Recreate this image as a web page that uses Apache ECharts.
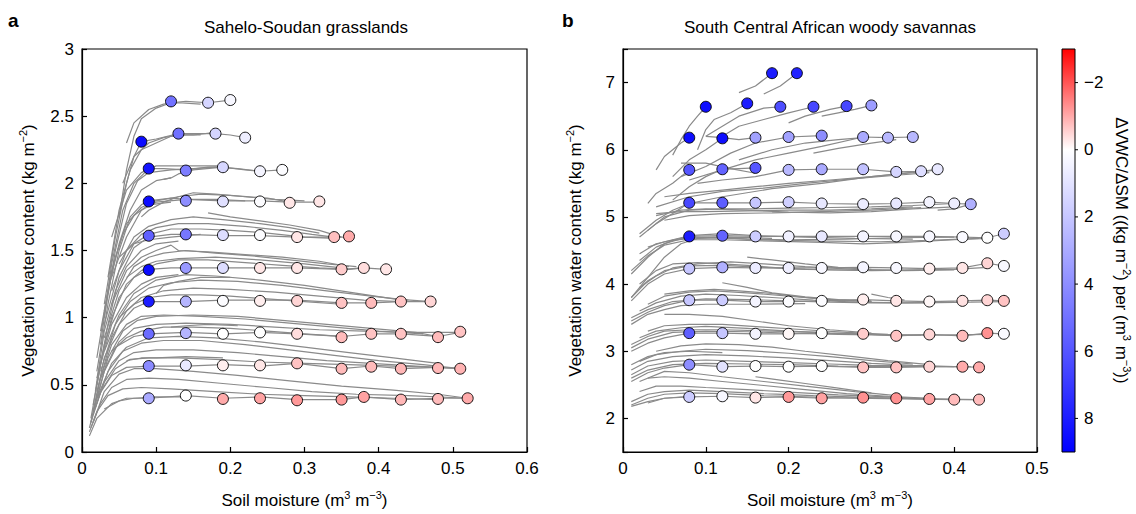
<!DOCTYPE html>
<html><head><meta charset="utf-8">
<script src="https://cdn.jsdelivr.net/npm/echarts@6/dist/echarts.min.js"></script>
<style>html,body{margin:0;padding:0;background:#fff}#c{width:1136px;height:514px}</style>
</head><body><div id="c"></div>
<script>
// ---------------- DATA ----------------
const titleA = 'Sahelo-Soudan grasslands';
const titleB = 'South Central African woody savannas';
const xTicksA = {min: 0, max: 0.6, interval: 0.1};
const yTicksA = {min: 0, max: 3, interval: 0.5};
const xTicksB = {min: 0, max: 0.5, interval: 0.1};
const yRangeB = {min: 1.5, max: 7.5};
const cbMin = -3, cbMax = 9;
const cbTicks = [-2, 0, 2, 4, 6, 8];
const cbColors = ['#ff0000', '#ffffff', '#aaaaff', '#5555ff', '#0000ff'];

// circles: [soil moisture, VWC, dVWC/dSM]
const circlesA = [
 [0.12,2.61,5],[0.17,2.60,1.5],[0.20,2.62,0.3],
 [0.08,2.31,8.6],[0.13,2.37,5],[0.18,2.37,1.5],[0.22,2.34,0.6],
 [0.09,2.11,8.3],[0.14,2.095,4.6],[0.19,2.12,1.4],[0.24,2.09,0.4],[0.27,2.10,0.1],
 [0.09,1.865,8.6],[0.14,1.87,4.0],[0.19,1.865,1.1],[0.24,1.865,0.1],[0.28,1.855,-0.3],[0.32,1.865,-0.3],
 [0.09,1.61,5.6],[0.14,1.62,4.8],[0.19,1.615,1.2],[0.24,1.615,0.1],[0.29,1.60,-0.3],[0.34,1.60,-0.75],[0.36,1.605,-1.0],
 [0.09,1.355,8.6],[0.14,1.37,3.6],[0.19,1.37,1.2],[0.24,1.37,-0.3],[0.29,1.37,-0.3],[0.35,1.36,-0.6],[0.38,1.37,-0.4],[0.41,1.36,-0.3],
 [0.09,1.12,8],[0.14,1.12,2.6],[0.19,1.125,0.1],[0.24,1.125,-0.2],[0.29,1.125,-0.5],[0.35,1.11,-0.7],[0.39,1.11,-0.8],[0.43,1.12,-0.7],[0.47,1.12,-0.5],
 [0.09,0.88,5.2],[0.14,0.885,2.6],[0.19,0.88,0],[0.24,0.89,0],[0.29,0.88,-0.4],[0.35,0.855,-0.8],[0.39,0.88,-0.7],[0.43,0.88,-0.7],[0.48,0.855,-0.8],[0.51,0.895,-0.7],
 [0.09,0.64,4.1],[0.14,0.645,0.8],[0.19,0.645,-0.2],[0.24,0.645,-0.3],[0.29,0.66,-0.7],[0.35,0.62,-0.8],[0.39,0.635,-0.8],[0.43,0.62,-0.85],[0.48,0.625,-0.85],[0.51,0.62,-0.9],
 [0.09,0.40,3.0],[0.14,0.42,0],[0.19,0.395,-1.0],[0.24,0.40,-1.1],[0.29,0.385,-1.2],[0.35,0.39,-1.2],[0.38,0.41,-1.1],[0.43,0.39,-0.85],[0.48,0.395,-0.8],[0.52,0.40,-1.0]
];
const circlesB = [
 [0.18,7.14,8],[0.21,7.14,7.8],
 [0.10,6.64,8.5],[0.15,6.69,8],[0.19,6.64,6.3],[0.23,6.64,6.5],[0.27,6.65,6.5],[0.30,6.66,3.5],
 [0.08,6.18,8.5],[0.12,6.17,8.5],[0.16,6.18,3.3],[0.20,6.19,3.3],[0.24,6.21,4],[0.29,6.19,3],[0.32,6.18,2.5],[0.35,6.19,2.5],
 [0.08,5.70,6],[0.12,5.71,5.5],[0.16,5.73,6],[0.20,5.70,2.5],[0.24,5.71,3],[0.29,5.71,2.2],[0.33,5.67,1.5],[0.36,5.68,1.2],[0.38,5.71,0.8],
 [0.08,5.21,6.5],[0.12,5.21,5.7],[0.16,5.21,2],[0.20,5.22,1.7],[0.24,5.20,0.8],[0.29,5.19,0.7],[0.33,5.20,0.8],[0.37,5.22,0.4],[0.40,5.20,0.6],[0.42,5.19,2.8],
 [0.08,4.71,8],[0.12,4.72,5.5],[0.16,4.71,1.8],[0.20,4.71,0.5],[0.24,4.71,0.8],[0.29,4.71,0.4],[0.33,4.71,0.3],[0.37,4.71,0.3],[0.41,4.70,0.2],[0.44,4.69,0],[0.46,4.75,1.8],
 [0.08,4.23,2],[0.12,4.25,2.8],[0.16,4.24,0.7],[0.20,4.24,0.6],[0.24,4.24,0.3],[0.29,4.25,0.4],[0.33,4.24,0.3],[0.37,4.23,-0.2],[0.41,4.24,-0.3],[0.44,4.31,-0.5],[0.46,4.27,0.3],
 [0.08,3.76,2],[0.12,3.76,1.8],[0.16,3.74,0.4],[0.20,3.74,0.1],[0.24,3.75,0.1],[0.29,3.77,-0.2],[0.33,3.75,-0.3],[0.37,3.74,-0.1],[0.41,3.75,-0.35],[0.44,3.76,-0.5],[0.46,3.75,-0.7],
 [0.08,3.27,5.7],[0.12,3.27,2],[0.16,3.26,0.4],[0.20,3.26,-0.1],[0.24,3.27,0],[0.29,3.26,-0.6],[0.33,3.23,-0.7],[0.37,3.25,-0.5],[0.41,3.23,-0.8],[0.44,3.27,-1.3],[0.46,3.26,0.2],
 [0.08,2.80,4],[0.12,2.77,1],[0.16,2.78,0],[0.20,2.77,0],[0.24,2.78,0],[0.29,2.76,-0.7],[0.33,2.76,-0.7],[0.37,2.77,-0.5],[0.41,2.77,-1],[0.43,2.76,-1],
 [0.08,2.32,1.8],[0.12,2.33,0.3],[0.16,2.31,-0.3],[0.20,2.32,-1.2],[0.24,2.30,-1.1],[0.29,2.31,-1.3],[0.33,2.30,-1.3],[0.37,2.29,-1.1],[0.40,2.28,-0.8],[0.43,2.28,-0.8]
];

// gray curves, panel a
const linesA = [
 [[0.05,1.75],[0.06,2.1],[0.07,2.35],[0.08,2.48],[0.1,2.56],[0.12,2.6],[0.14,2.61],[0.17,2.6],[0.2,2.62]],
 [[0.06,2.3],[0.07,2.45],[0.09,2.55],[0.11,2.59],[0.13,2.6],[0.16,2.59]],
 [[0.03,1.1],[0.045,1.6],[0.06,2.0],[0.07,2.2],[0.08,2.31],[0.1,2.33],[0.13,2.37],[0.15,2.37],[0.18,2.37],[0.2,2.36],[0.22,2.34]],
 [[0.035,1.3],[0.05,1.8],[0.065,2.1],[0.08,2.25],[0.1,2.3],[0.12,2.35],[0.14,2.36],[0.16,2.36]],
 [[0.055,2.0],[0.07,2.2],[0.09,2.3],[0.11,2.34],[0.13,2.36],[0.15,2.36],[0.18,2.38]],
 [[0.025,0.8],[0.04,1.4],[0.055,1.8],[0.07,2.0],[0.09,2.11],[0.11,2.11],[0.14,2.1],[0.17,2.12],[0.19,2.12],[0.22,2.1],[0.24,2.09],[0.27,2.1]],
 [[0.03,1.0],[0.045,1.5],[0.06,1.85],[0.075,2.02],[0.09,2.08],[0.12,2.1],[0.15,2.11],[0.18,2.12],[0.21,2.11],[0.24,2.09]],
 [[0.04,1.6],[0.06,1.95],[0.08,2.08],[0.1,2.13],[0.13,2.13],[0.16,2.13],[0.19,2.13]],
 [[0.11,2.03],[0.12,2.04],[0.13,2.07],[0.15,2.1],[0.19,2.12]],
 [[0.02,0.6],[0.035,1.1],[0.05,1.5],[0.065,1.75],[0.08,1.84],[0.09,1.87],[0.12,1.89],[0.14,1.88],[0.19,1.87],[0.24,1.87],[0.28,1.86],[0.32,1.86]],
 [[0.03,1.05],[0.045,1.45],[0.06,1.7],[0.08,1.82],[0.1,1.87],[0.13,1.9],[0.16,1.92],[0.2,1.91],[0.25,1.89],[0.28,1.86]],
 [[0.08,1.75],[0.09,1.8],[0.11,1.86],[0.13,1.9],[0.15,1.93],[0.18,1.92],[0.22,1.9],[0.26,1.88],[0.3,1.87]],
 [[0.04,1.3],[0.06,1.6],[0.08,1.8],[0.1,1.86],[0.14,1.88],[0.18,1.88],[0.22,1.87]],
 [[0.02,0.5],[0.035,0.95],[0.05,1.3],[0.07,1.52],[0.09,1.6],[0.12,1.62],[0.14,1.62],[0.19,1.61],[0.24,1.61],[0.29,1.6],[0.34,1.6],[0.36,1.6]],
 [[0.03,0.95],[0.05,1.35],[0.07,1.55],[0.09,1.62],[0.12,1.66],[0.16,1.66],[0.2,1.65],[0.25,1.63],[0.3,1.6],[0.34,1.59]],
 [[0.04,1.2],[0.06,1.5],[0.08,1.62],[0.1,1.67],[0.13,1.7],[0.17,1.7],[0.22,1.68],[0.27,1.65],[0.31,1.62],[0.34,1.6]],
 [[0.05,1.4],[0.07,1.6],[0.09,1.68],[0.12,1.73],[0.15,1.75],[0.19,1.73],[0.24,1.7],[0.28,1.67],[0.32,1.63]],
 [[0.17,1.78],[0.2,1.75],[0.24,1.72],[0.28,1.69],[0.32,1.65],[0.35,1.6]],
 [[0.05,1.45],[0.07,1.55],[0.09,1.58],[0.12,1.6],[0.16,1.62]],
 [[0.015,0.35],[0.03,0.8],[0.05,1.15],[0.07,1.3],[0.09,1.36],[0.12,1.37],[0.14,1.37],[0.19,1.37],[0.24,1.37],[0.29,1.37],[0.35,1.36],[0.38,1.37],[0.41,1.36]],
 [[0.02,0.55],[0.04,1.0],[0.06,1.25],[0.08,1.35],[0.1,1.4],[0.13,1.43],[0.17,1.43],[0.22,1.41],[0.27,1.39],[0.32,1.37],[0.36,1.36],[0.38,1.37]],
 [[0.03,0.85],[0.05,1.2],[0.07,1.38],[0.09,1.45],[0.11,1.48],[0.14,1.5],[0.18,1.48],[0.23,1.46],[0.28,1.43],[0.33,1.4],[0.37,1.38]],
 [[0.04,1.1],[0.06,1.35],[0.08,1.45],[0.1,1.5],[0.12,1.54],[0.13,1.5],[0.17,1.49],[0.22,1.47],[0.27,1.45],[0.32,1.42],[0.36,1.38]],
 [[0.06,1.3],[0.08,1.38],[0.1,1.42],[0.13,1.44],[0.18,1.45],[0.24,1.43],[0.3,1.4],[0.35,1.37]],
 [[0.015,0.3],[0.03,0.7],[0.05,0.95],[0.07,1.07],[0.09,1.12],[0.12,1.12],[0.14,1.12],[0.19,1.13],[0.24,1.13],[0.29,1.13],[0.35,1.11],[0.39,1.11],[0.43,1.12],[0.47,1.12]],
 [[0.02,0.45],[0.04,0.85],[0.06,1.05],[0.08,1.15],[0.11,1.2],[0.15,1.22],[0.2,1.21],[0.26,1.19],[0.32,1.16],[0.38,1.13],[0.43,1.12]],
 [[0.025,0.6],[0.045,0.95],[0.065,1.12],[0.09,1.22],[0.12,1.26],[0.16,1.28],[0.21,1.27],[0.27,1.24],[0.33,1.2],[0.39,1.16],[0.44,1.13]],
 [[0.03,0.75],[0.05,1.02],[0.07,1.18],[0.1,1.28],[0.14,1.32],[0.18,1.31],[0.24,1.28],[0.3,1.24],[0.36,1.19],[0.42,1.14],[0.47,1.12]],
 [[0.1,1.18],[0.11,1.24],[0.13,1.27],[0.16,1.3],[0.2,1.3]],
 [[0.05,1.0],[0.07,1.1],[0.09,1.15],[0.12,1.17],[0.16,1.17],[0.2,1.16],[0.25,1.14],[0.3,1.12],[0.35,1.1]],
 [[0.012,0.22],[0.025,0.55],[0.045,0.78],[0.07,0.86],[0.09,0.88],[0.14,0.89],[0.19,0.88],[0.24,0.89],[0.29,0.88],[0.35,0.86],[0.39,0.88],[0.43,0.88],[0.48,0.86],[0.51,0.89]],
 [[0.015,0.3],[0.03,0.6],[0.05,0.82],[0.07,0.92],[0.1,0.95],[0.14,0.96],[0.2,0.95],[0.26,0.93],[0.32,0.91],[0.38,0.9],[0.44,0.89],[0.51,0.89]],
 [[0.02,0.4],[0.035,0.7],[0.055,0.9],[0.075,0.98],[0.1,1.01],[0.15,1.02],[0.21,1.01],[0.27,0.98],[0.33,0.95],[0.39,0.92],[0.45,0.89],[0.48,0.86]],
 [[0.025,0.55],[0.04,0.8],[0.06,0.95],[0.08,1.01],[0.11,1.02],[0.16,1.01],[0.22,0.99],[0.28,0.96],[0.34,0.93],[0.4,0.9],[0.46,0.88]],
 [[0.12,0.93],[0.14,0.94],[0.17,0.95],[0.21,0.94]],
 [[0.04,0.75],[0.06,0.85],[0.08,0.9],[0.11,0.93],[0.15,0.93],[0.2,0.92],[0.25,0.9],[0.3,0.88],[0.35,0.86]],
 [[0.01,0.18],[0.02,0.4],[0.04,0.57],[0.06,0.63],[0.09,0.64],[0.14,0.64],[0.19,0.65],[0.24,0.64],[0.29,0.66],[0.35,0.62],[0.39,0.64],[0.43,0.62],[0.48,0.63],[0.51,0.62]],
 [[0.012,0.22],[0.025,0.45],[0.045,0.62],[0.065,0.69],[0.09,0.7],[0.13,0.7],[0.18,0.69],[0.24,0.67],[0.3,0.66],[0.36,0.65],[0.42,0.64],[0.48,0.63]],
 [[0.015,0.28],[0.03,0.52],[0.05,0.68],[0.07,0.74],[0.1,0.76],[0.15,0.76],[0.21,0.74],[0.27,0.71],[0.33,0.68],[0.39,0.66],[0.45,0.64],[0.51,0.62]],
 [[0.018,0.33],[0.035,0.6],[0.055,0.75],[0.08,0.81],[0.11,0.83],[0.16,0.83],[0.22,0.8],[0.28,0.76],[0.34,0.72],[0.4,0.68],[0.46,0.65],[0.51,0.62]],
 [[0.02,0.4],[0.04,0.66],[0.06,0.78],[0.09,0.85],[0.13,0.86],[0.18,0.85],[0.24,0.82],[0.3,0.78],[0.36,0.74],[0.42,0.7],[0.48,0.66]],
 [[0.06,0.68],[0.08,0.7],[0.1,0.7],[0.14,0.71],[0.19,0.7]],
 [[0.01,0.12],[0.02,0.25],[0.04,0.36],[0.06,0.4],[0.09,0.4],[0.14,0.42],[0.19,0.4],[0.24,0.41],[0.29,0.39],[0.35,0.39],[0.38,0.41],[0.43,0.39],[0.48,0.4],[0.52,0.4]],
 [[0.01,0.15],[0.02,0.3],[0.035,0.42],[0.055,0.47],[0.08,0.48],[0.12,0.47],[0.18,0.45],[0.24,0.43],[0.3,0.42],[0.36,0.41],[0.42,0.4],[0.48,0.39]],
 [[0.012,0.18],[0.025,0.36],[0.04,0.48],[0.06,0.54],[0.09,0.55],[0.13,0.54],[0.19,0.51],[0.25,0.48],[0.31,0.45],[0.37,0.43],[0.44,0.42],[0.52,0.4]],
 [[0.015,0.22],[0.03,0.45],[0.05,0.58],[0.07,0.62],[0.1,0.62],[0.15,0.6],[0.21,0.57],[0.28,0.53],[0.35,0.49],[0.42,0.46],[0.48,0.43],[0.52,0.4]],
 [[0.03,0.32],[0.05,0.38],[0.07,0.4],[0.1,0.41],[0.14,0.41]],
 [[0.02,0.7],[0.035,1.2],[0.05,1.55],[0.065,1.8],[0.08,1.95],[0.1,2.02],[0.12,2.04]],
 [[0.025,0.9],[0.04,1.35],[0.055,1.62],[0.07,1.76],[0.09,1.84],[0.12,1.86]],
 [[0.018,0.45],[0.03,0.9],[0.045,1.2],[0.06,1.38],[0.08,1.5],[0.1,1.55],[0.13,1.57]],
 [[0.012,0.25],[0.025,0.65],[0.04,0.95],[0.06,1.15],[0.08,1.25],[0.1,1.3],[0.13,1.32]]
];

// gray curves, panel b
const linesB = [
 [[0.14,6.85],[0.16,6.95],[0.18,7.14]],
 [[0.17,6.83],[0.19,6.95],[0.21,7.14]],
 [[0.06,5.92],[0.07,6.15],[0.08,6.35],[0.09,6.5],[0.1,6.64]],
 [[0.09,6.0],[0.1,6.3],[0.11,6.45],[0.13,6.55],[0.15,6.69]],
 [[0.1,6.2],[0.12,6.35],[0.14,6.5],[0.17,6.62],[0.19,6.64]],
 [[0.12,6.2],[0.14,6.35],[0.17,6.45],[0.2,6.55],[0.23,6.64]],
 [[0.2,6.4],[0.22,6.5],[0.25,6.6],[0.27,6.65]],
 [[0.24,6.5],[0.26,6.55],[0.28,6.6],[0.3,6.66]],
 [[0.04,5.7],[0.05,5.9],[0.06,6.0],[0.07,6.1],[0.08,6.18]],
 [[0.06,5.6],[0.08,5.85],[0.1,6.0],[0.12,6.17]],
 [[0.1,6.2],[0.12,6.18],[0.14,6.15],[0.16,6.18]],
 [[0.07,5.6],[0.1,5.75],[0.13,5.95],[0.16,6.1],[0.2,6.19],[0.24,6.21]],
 [[0.08,5.55],[0.12,5.7],[0.16,5.85],[0.2,5.95],[0.24,6.05],[0.29,6.19],[0.32,6.18],[0.35,6.19]],
 [[0.14,5.85],[0.18,6.0],[0.22,6.1],[0.26,6.15],[0.29,6.18]],
 [[0.23,5.95],[0.26,6.02],[0.3,6.1],[0.33,6.15]],
 [[0.03,5.2],[0.04,5.35],[0.06,5.5],[0.08,5.7]],
 [[0.06,5.25],[0.08,5.45],[0.1,5.6],[0.12,5.71],[0.14,5.72],[0.16,5.73]],
 [[0.07,5.8],[0.1,5.8],[0.13,5.72],[0.16,5.65]],
 [[0.09,5.5],[0.12,5.55],[0.16,5.6],[0.2,5.7],[0.24,5.71],[0.29,5.71],[0.33,5.67],[0.36,5.68],[0.38,5.71]],
 [[0.05,5.3],[0.08,5.35],[0.12,5.4],[0.16,5.45],[0.2,5.5],[0.25,5.55],[0.3,5.6],[0.35,5.66],[0.38,5.7]],
 [[0.04,5.15],[0.08,5.3],[0.12,5.38],[0.17,5.43],[0.22,5.5],[0.28,5.57],[0.33,5.62],[0.37,5.66]],
 [[0.02,4.75],[0.04,4.95],[0.06,5.1],[0.08,5.2],[0.12,5.3],[0.18,5.42],[0.24,5.5],[0.3,5.6],[0.36,5.68]],
 [[0.02,4.7],[0.04,4.9],[0.06,5.05],[0.08,5.21],[0.12,5.21],[0.16,5.21],[0.2,5.22],[0.24,5.2],[0.29,5.19],[0.33,5.2],[0.37,5.22],[0.4,5.2],[0.42,5.19]],
 [[0.03,4.8],[0.05,5.0],[0.08,5.1],[0.12,5.12],[0.16,5.12],[0.2,5.13],[0.25,5.14],[0.3,5.15],[0.35,5.17],[0.4,5.2]],
 [[0.04,5.05],[0.07,5.08],[0.1,5.08],[0.15,5.09],[0.2,5.1],[0.25,5.1],[0.3,5.12],[0.35,5.15]],
 [[0.04,5.02],[0.07,5.1],[0.1,5.12],[0.15,5.1],[0.2,5.07],[0.25,5.06],[0.3,5.08],[0.35,5.12],[0.4,5.15]],
 [[0.05,4.95],[0.08,5.02],[0.12,5.05],[0.18,5.06],[0.24,5.08],[0.3,5.1],[0.36,5.14]],
 [[0.38,5.1],[0.4,5.12],[0.42,5.19]],
 [[0.01,4.15],[0.03,4.4],[0.05,4.6],[0.08,4.71],[0.12,4.72],[0.16,4.71],[0.2,4.71],[0.24,4.71],[0.29,4.71],[0.33,4.71],[0.37,4.71],[0.41,4.7],[0.44,4.69],[0.46,4.75]],
 [[0.01,4.2],[0.03,4.42],[0.05,4.58],[0.08,4.66],[0.12,4.66],[0.18,4.64],[0.24,4.62],[0.29,4.6],[0.34,4.62],[0.4,4.66],[0.44,4.68]],
 [[0.02,4.35],[0.04,4.55],[0.06,4.65],[0.09,4.69],[0.13,4.68],[0.19,4.65],[0.25,4.64],[0.31,4.63],[0.37,4.65],[0.43,4.68]],
 [[0.02,4.45],[0.04,4.6],[0.07,4.68],[0.11,4.7],[0.15,4.67],[0.2,4.66],[0.27,4.67],[0.33,4.69],[0.4,4.7]],
 [[0.03,4.55],[0.05,4.63],[0.08,4.72],[0.12,4.75],[0.16,4.72],[0.22,4.7],[0.28,4.68],[0.35,4.67]],
 [[0.01,3.8],[0.03,4.1],[0.05,4.4],[0.07,4.6],[0.09,4.68],[0.13,4.7],[0.18,4.68]],
 [[0.01,3.75],[0.03,4.0],[0.05,4.15],[0.08,4.23],[0.12,4.25],[0.16,4.24],[0.2,4.24],[0.24,4.24],[0.29,4.25],[0.33,4.24],[0.37,4.23],[0.41,4.24],[0.44,4.31],[0.46,4.27]],
 [[0.01,3.8],[0.03,4.05],[0.05,4.2],[0.08,4.27],[0.12,4.28],[0.17,4.25],[0.22,4.22],[0.28,4.21],[0.34,4.21],[0.4,4.22],[0.44,4.25]],
 [[0.02,3.95],[0.04,4.12],[0.06,4.24],[0.09,4.3],[0.13,4.33],[0.17,4.3],[0.22,4.26],[0.28,4.22],[0.34,4.2],[0.4,4.21]],
 [[0.02,4.0],[0.04,4.2],[0.06,4.3],[0.09,4.32],[0.12,4.3],[0.16,4.27],[0.2,4.23],[0.25,4.21],[0.3,4.2],[0.36,4.21]],
 [[0.15,4.4],[0.18,4.36],[0.22,4.3],[0.26,4.25],[0.3,4.22]],
 [[0.01,3.45],[0.03,3.58],[0.05,3.68],[0.08,3.76],[0.12,3.76],[0.16,3.74],[0.2,3.74],[0.24,3.75],[0.29,3.77],[0.33,3.75],[0.37,3.74],[0.41,3.75],[0.44,3.76],[0.46,3.75]],
 [[0.01,3.5],[0.03,3.62],[0.06,3.74],[0.1,3.78],[0.15,3.77],[0.2,3.75],[0.25,3.73],[0.3,3.72],[0.36,3.72],[0.42,3.73],[0.46,3.74]],
 [[0.02,3.6],[0.04,3.72],[0.07,3.82],[0.1,3.85],[0.14,3.83],[0.18,3.8],[0.23,3.76],[0.28,3.73],[0.34,3.72],[0.4,3.73]],
 [[0.03,3.7],[0.05,3.82],[0.08,3.88],[0.11,3.9],[0.15,3.87],[0.2,3.82],[0.25,3.77],[0.3,3.74]],
 [[0.05,3.85],[0.08,3.9],[0.11,3.92],[0.14,3.9],[0.18,3.86],[0.22,3.8],[0.26,3.76],[0.3,3.74]],
 [[0.12,4.02],[0.15,3.95],[0.18,3.87],[0.22,3.81],[0.26,3.77],[0.3,3.75]],
 [[0.3,3.85],[0.32,3.8],[0.34,3.76]],
 [[0.01,3.4],[0.03,3.55],[0.05,3.62],[0.07,3.68],[0.1,3.7],[0.15,3.7],[0.22,3.71]],
 [[0.01,3.0],[0.03,3.12],[0.05,3.2],[0.08,3.27],[0.12,3.27],[0.16,3.26],[0.2,3.26],[0.24,3.27],[0.29,3.26],[0.33,3.23],[0.37,3.25],[0.41,3.23],[0.44,3.27],[0.46,3.26]],
 [[0.01,3.05],[0.03,3.18],[0.06,3.28],[0.1,3.3],[0.15,3.29],[0.2,3.27],[0.26,3.25],[0.32,3.24],[0.38,3.24],[0.44,3.25]],
 [[0.02,3.2],[0.04,3.3],[0.07,3.35],[0.1,3.37],[0.15,3.34],[0.2,3.3],[0.25,3.27],[0.3,3.25],[0.36,3.24]],
 [[0.03,3.3],[0.05,3.38],[0.08,3.4],[0.12,3.4],[0.17,3.36],[0.22,3.32],[0.27,3.28],[0.32,3.25]],
 [[0.05,3.55],[0.08,3.55],[0.12,3.52],[0.16,3.45],[0.2,3.38],[0.25,3.32],[0.3,3.27]],
 [[0.01,3.1],[0.03,3.22],[0.05,3.3],[0.08,3.32],[0.12,3.32],[0.18,3.3],[0.24,3.28]],
 [[0.01,2.55],[0.03,2.68],[0.05,2.75],[0.08,2.8],[0.12,2.77],[0.16,2.78],[0.2,2.77],[0.24,2.78],[0.29,2.76],[0.33,2.76],[0.37,2.77],[0.41,2.77],[0.43,2.76]],
 [[0.01,2.6],[0.03,2.72],[0.06,2.8],[0.1,2.82],[0.15,2.81],[0.2,2.8],[0.26,2.78],[0.32,2.77],[0.38,2.77],[0.42,2.77]],
 [[0.01,2.65],[0.03,2.78],[0.06,2.85],[0.1,2.87],[0.15,2.85],[0.2,2.83],[0.25,2.81],[0.3,2.79],[0.36,2.78]],
 [[0.01,2.72],[0.03,2.85],[0.06,2.92],[0.1,2.95],[0.15,2.93],[0.2,2.9],[0.25,2.86],[0.3,2.82],[0.35,2.79],[0.4,2.77]],
 [[0.02,2.85],[0.04,2.95],[0.07,3.0],[0.1,3.03],[0.15,3.01],[0.2,2.97],[0.25,2.92],[0.3,2.86],[0.35,2.81]],
 [[0.04,3.0],[0.07,3.08],[0.1,3.11],[0.14,3.1],[0.18,3.06],[0.22,3.0],[0.27,2.93],[0.32,2.86],[0.37,2.8]],
 [[0.01,2.8],[0.03,2.92],[0.05,2.98],[0.08,3.0],[0.12,2.98]],
 [[0.01,2.18],[0.03,2.25],[0.05,2.3],[0.08,2.32],[0.12,2.33],[0.16,2.31],[0.2,2.32],[0.24,2.3],[0.29,2.31],[0.33,2.3],[0.37,2.29],[0.4,2.28],[0.43,2.28]],
 [[0.01,2.2],[0.03,2.3],[0.05,2.36],[0.08,2.38],[0.12,2.37],[0.17,2.34],[0.22,2.32],[0.28,2.3],[0.34,2.29],[0.4,2.28]],
 [[0.01,2.25],[0.03,2.36],[0.05,2.4],[0.08,2.42],[0.12,2.4],[0.17,2.37],[0.23,2.34],[0.3,2.31],[0.37,2.29],[0.43,2.28]],
 [[0.02,2.4],[0.04,2.48],[0.07,2.48],[0.1,2.46],[0.15,2.43],[0.2,2.39],[0.26,2.35],[0.32,2.32],[0.37,2.29]],
 [[0.03,2.6],[0.05,2.62],[0.08,2.6],[0.12,2.55],[0.17,2.49],[0.22,2.43],[0.27,2.37],[0.32,2.33],[0.37,2.3]],
 [[0.02,2.55],[0.05,2.7],[0.08,2.68],[0.12,2.62],[0.17,2.55],[0.22,2.48],[0.28,2.4],[0.33,2.34]],
 [[0.16,2.62],[0.19,2.57],[0.22,2.52],[0.26,2.45],[0.3,2.38]],
 [[0.03,2.23],[0.05,2.3],[0.08,2.33]]
];

// ---------------- CHART ----------------
const FONT = '"Liberation Sans", Arial, Helvetica, sans-serif';
const FS = 17;
const chart = echarts.init(document.getElementById('c'), null, {renderer: 'svg'});
const rich = {
  n: {fontSize: FS, fontFamily: FONT, color: '#000', lineHeight: 22},
  s: {fontSize: 11, fontFamily: FONT, color: '#000', lineHeight: 9, verticalAlign: 'top'}
};
const nameStyle = {fontSize: FS, fontFamily: FONT, color: '#000', rich: rich};
const axisLineStyle = {show: true, lineStyle: {color: '#000', width: 1.2}};
const tickStyle = {show: true, inside: true, length: 5, lineStyle: {color: '#000', width: 1.2}};
const labelStyle = {fontSize: FS, fontFamily: FONT, color: '#000'};
const xName = '{n|Soil moisture (m}{s|3}{n| m}{s|\u22123}{n|)}';
const yName = '{n|Vegetation water content (kg m}{s|\u22122}{n|)}';
const cbName = '{n|\u0394VWC/\u0394SM ((kg m}{s|\u22122}{n|) per (m}{s|3}{n| m}{s|\u22123}{n|))}';
const lineStyleGray = {color: '#8a8a8a', width: 1.2};

const grids = [
  {left: 82, top: 49, width: 445, height: 403, show: true, borderColor: '#000', borderWidth: 1.2, backgroundColor: 'transparent'},
  {left: 623, top: 49, width: 414, height: 403, show: true, borderColor: '#000', borderWidth: 1.2, backgroundColor: 'transparent'},
  {left: 1062, top: 49, width: 13, height: 403, show: false}
];

function xAxisFor(gi, t) {
  return {gridIndex: gi, type: 'value', min: t.min, max: t.max, interval: t.interval,
    axisLine: axisLineStyle, axisTick: tickStyle, splitLine: {show: false},
    axisLabel: Object.assign({margin: 8}, labelStyle),
    name: xName, nameLocation: 'middle', nameGap: 37, nameTextStyle: nameStyle};
}

const series = [];
linesA.forEach(l => series.push({type: 'line', xAxisIndex: 0, yAxisIndex: 0, data: l, showSymbol: false, silent: true,
  lineStyle: lineStyleGray, z: 2}));
const idxScatterA = series.length;
series.push({type: 'scatter', xAxisIndex: 0, yAxisIndex: 0, data: circlesA, symbolSize: 11, z: 10,
  itemStyle: {borderColor: '#000', borderWidth: 0.9, opacity: 1}});
linesB.forEach(l => series.push({type: 'line', xAxisIndex: 1, yAxisIndex: 1, data: l, showSymbol: false, silent: true,
  lineStyle: lineStyleGray, z: 2}));
const idxScatterB = series.length;
series.push({type: 'scatter', xAxisIndex: 1, yAxisIndex: 1, data: circlesB, symbolSize: 11, z: 10,
  itemStyle: {borderColor: '#000', borderWidth: 0.9, opacity: 1}});

const gradStops = cbColors.map((c, i) => ({offset: i / (cbColors.length - 1), color: c}));
series.push({
  type: 'custom', xAxisIndex: 2, yAxisIndex: 2, silent: true, data: [[0, cbMin]],
  renderItem: function (params, api) {
    const a = api.coord([0, cbMin]);
    const b = api.coord([1, cbMax]);
    const x = Math.min(a[0], b[0]), y = Math.min(a[1], b[1]);
    const w = Math.abs(b[0] - a[0]), h = Math.abs(b[1] - a[1]);
    const children = [{type: 'rect', shape: {x: x, y: y, width: w, height: h},
      style: {fill: new echarts.graphic.LinearGradient(0, 0, 0, 1, gradStops), stroke: '#000', lineWidth: 1}}];
    cbTicks.forEach(t => {
      const c = api.coord([1, t]);
      children.push({type: 'line', shape: {x1: c[0], y1: c[1], x2: c[0] + 3, y2: c[1]}, style: {stroke: '#000', lineWidth: 1}});
    });
    return {type: 'group', children: children};
  }
});

const option = {
  animation: false,
  backgroundColor: '#fff',
  grid: grids,
  xAxis: [
    xAxisFor(0, xTicksA),
    xAxisFor(1, xTicksB),
    {gridIndex: 2, type: 'value', min: 0, max: 1, show: false}
  ],
  yAxis: [
    {gridIndex: 0, type: 'value', min: yTicksA.min, max: yTicksA.max, interval: yTicksA.interval,
      axisLine: axisLineStyle, axisTick: tickStyle, splitLine: {show: false},
      axisLabel: Object.assign({margin: 8}, labelStyle),
      name: yName, nameLocation: 'middle', nameGap: 43, nameTextStyle: nameStyle},
    {gridIndex: 1, type: 'value', min: yRangeB.min, max: yRangeB.max, splitNumber: 6,
      axisLine: axisLineStyle, axisTick: tickStyle, splitLine: {show: false},
      axisLabel: Object.assign({margin: 8, formatter: v => (Math.abs(v - Math.round(v)) < 1e-9 ? String(Math.round(v)) : '')}, labelStyle),
      name: yName, nameLocation: 'middle', nameGap: 37, nameTextStyle: nameStyle},
    {gridIndex: 2, type: 'value', min: cbMin, max: cbMax, splitNumber: 6, inverse: true, position: 'right',
      axisLine: {show: false}, axisTick: {show: false}, splitLine: {show: false},
      axisLabel: Object.assign({margin: 9, showMinLabel: false, showMaxLabel: false,
        formatter: v => (v < 0 ? '\u2212' + Math.abs(v) : String(v))}, labelStyle),
      name: cbName, nameLocation: 'middle', nameRotate: -90, nameGap: 35, nameTextStyle: nameStyle}
  ],
  visualMap: {show: false, type: 'continuous', dimension: 2, seriesIndex: [idxScatterA, idxScatterB],
    min: cbMin, max: cbMax, inRange: {color: cbColors}},
  graphic: [
    {type: 'text', x: 8, y: 20, style: {text: 'a', font: 'bold 19px ' + FONT, fill: '#000', textVerticalAlign: 'middle'}},
    {type: 'text', x: 562, y: 20, style: {text: 'b', font: 'bold 19px ' + FONT, fill: '#000', textVerticalAlign: 'middle'}},
    {type: 'text', x: 306, y: 27, style: {text: titleA, font: '17px ' + FONT, fill: '#000', textAlign: 'center', textVerticalAlign: 'middle'}},
    {type: 'text', x: 830, y: 27, style: {text: titleB, font: '17px ' + FONT, fill: '#000', textAlign: 'center', textVerticalAlign: 'middle'}}
  ],
  series: series
};
chart.setOption(option);
</script></body></html>
